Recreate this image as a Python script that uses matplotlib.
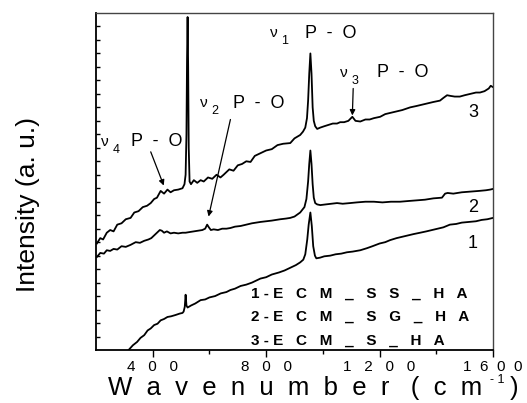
import numpy as np
import matplotlib
matplotlib.use("Agg")
import matplotlib.pyplot as plt

plt.rcParams['font.family'] = ['Liberation Sans', 'DejaVu Sans']

# spectrum 1 (ECM_SS_HA)
wn1 = [315, 330, 345, 357, 370, 382, 393, 405, 417, 428, 440, 452, 465, 481, 495, 505, 509,
       513, 516, 519, 523, 535, 550, 569, 585, 600, 620, 640, 660, 674, 690, 710, 730, 750,
       780, 800, 820, 845, 865, 885, 905, 920, 931, 938, 945, 950, 956, 961, 966, 972, 977,
       990, 1005, 1026, 1045, 1065, 1085, 1105, 1132, 1155, 1175, 1200, 1220, 1237, 1260,
       1280, 1300, 1320, 1343, 1365, 1385, 1405, 1425, 1448, 1470, 1490, 1515, 1540, 1560,
       1580, 1600]
int1 = [0.0, 0.35, 0.6, 0.9, 1.1, 1.45, 1.6, 1.85, 1.95, 2.2, 2.3, 2.45, 2.5, 2.6, 2.7, 2.75,
        2.85, 3.2, 4.1, 3.3, 3.15, 3.3, 3.45, 3.7, 3.75, 3.9, 4.0, 4.2, 4.3, 4.45, 4.55, 4.75,
        4.85, 5.0, 5.3, 5.4, 5.6, 5.75, 5.9, 6.1, 6.3, 6.5, 6.7, 7.1, 8.2, 9.3, 10.2, 9.2, 7.7,
        7.0, 6.8, 6.85, 6.95, 7.0, 7.1, 7.15, 7.25, 7.3, 7.4, 7.55, 7.7, 7.9, 8.0, 8.15, 8.3,
        8.4, 8.5, 8.6, 8.7, 8.8, 8.9, 9.0, 9.1, 9.3, 9.35, 9.45, 9.5, 9.55, 9.65, 9.7, 9.8]

# spectrum 2 (ECM_SG_HA)
wn2 = [203, 215, 228, 238, 250, 262, 275, 290, 305, 322, 340, 355, 370, 385, 395, 405, 415,
       425, 432, 440, 450, 463, 475, 490, 505, 516, 530, 545, 560, 575, 585, 592, 598, 605,
       615, 630, 645, 660, 674, 690, 710, 730, 750, 780, 800, 820, 850, 870, 885, 900, 920,
       935, 942, 948, 952, 956, 960, 964, 968, 973, 980, 991, 1010, 1030, 1050, 1070, 1096,
       1120, 1150, 1180, 1210, 1240, 1272, 1300, 1330, 1360, 1390, 1420, 1431, 1440, 1460,
       1490, 1520, 1550, 1575, 1590, 1600]
int2 = [6.9, 7.2, 7.15, 7.4, 7.35, 7.5, 7.45, 7.7, 7.65, 7.8, 8.0, 7.95, 8.1, 8.2, 8.3, 8.5,
        8.7, 8.9, 8.85, 8.7, 8.8, 8.65, 8.7, 8.65, 8.7, 8.7, 8.75, 8.8, 8.85, 8.9, 9.0, 9.3,
        9.1, 8.9, 8.95, 8.9, 9.0, 9.0, 9.05, 9.15, 9.2, 9.3, 9.4, 9.5, 9.55, 9.6, 9.7, 9.75,
        9.8, 9.9, 10.2, 10.6, 11.2, 12.5, 13.8, 14.8, 13.8, 12.3, 11.3, 10.9, 10.8, 10.75, 10.8,
        10.85, 10.9, 10.85, 10.9, 10.95, 11.0, 11.0, 10.95, 11.0, 11.0, 11.05, 11.1, 11.15,
        11.25, 11.3, 11.6, 11.65, 11.6, 11.7, 11.75, 11.8, 11.85, 11.9, 11.95]

# spectrum 3 (ECM_S_HA)
wn3 = [203, 215, 225, 238, 250, 262, 275, 290, 305, 322, 335, 350, 365, 380, 393, 405, 415,
       428, 440, 452, 463, 475, 490, 505, 512, 516, 519, 521, 523, 525, 527, 530, 535, 545,
       557, 569, 580, 595, 610, 625, 639, 650, 670, 685, 700, 715, 730, 745, 760, 780, 800,
       820, 840, 860, 885, 900, 920, 930, 938, 944, 948, 952, 956, 960, 964, 968, 973, 980,
       991, 1005, 1020, 1035, 1050, 1061, 1075, 1090, 1104, 1115, 1132, 1150, 1165, 1180,
       1202, 1220, 1240, 1260, 1280, 1308, 1330, 1350, 1370, 1390, 1413, 1425, 1438, 1450,
       1465, 1483, 1500, 1520, 1540, 1554, 1570, 1585, 1592, 1600]
int3 = [7.9, 8.3, 8.2, 8.7, 8.9, 8.8, 9.3, 9.4, 9.7, 9.8, 10.2, 10.3, 10.6, 10.7, 10.9, 11.2,
        11.3, 11.8, 11.6, 11.9, 11.7, 11.85, 11.9, 12.0, 12.3, 13.0, 16.0, 21.5, 24.7, 21.0,
        15.0, 12.5, 12.3, 12.6, 12.4, 12.6, 12.5, 12.8, 12.7, 13.0, 12.8, 13.0, 13.4, 13.3,
        13.7, 13.8, 14.0, 13.95, 14.4, 14.6, 14.8, 14.9, 15.2, 15.3, 15.35, 15.7, 15.95, 16.2,
        16.5, 17.2, 18.5, 20.5, 22.0, 20.5, 18.0, 17.0, 16.6, 16.4, 16.5, 16.6, 16.7, 16.8,
        16.8, 16.9, 16.9, 17.0, 17.3, 17.0, 16.95, 17.1, 17.1, 17.2, 17.3, 17.5, 17.6, 17.7,
        17.8, 18.0, 18.1, 18.2, 18.3, 18.4, 18.5, 18.7, 18.9, 18.85, 18.8, 18.8, 18.9, 19.0,
        19.1, 19.1, 19.2, 19.4, 19.6, 19.5]

xticks = [400, 800, 1200, 1600]
xticklabels = ["4   0   0", "8   0   0", "1   2   0   0", "1  6  0  0"]
legend_lines = ["1 - E   C   M   _   S   S   _   H   A",
                "2 - E   C   M   _   S   G   _   H   A",
                "3 - E   C   M   _   S   _   H   A"]

fig = plt.figure(figsize=(5.27, 4.03), dpi=100)
ax = fig.add_axes([96 / 527, 53 / 403, 397 / 527, 337 / 403])

for w, s in [(wn1, int1), (wn2, int2), (wn3, int3)]:
    ax.plot(w, s, color='black', lw=1.3)

ax.set_xlim(200, 1600)
ax.set_ylim(0, 25)

ax.set_xticks(xticks)
ax.set_xticklabels(xticklabels, fontsize=11)
ax.set_xticks([600, 1000, 1400], minor=True)
ax.tick_params(axis='x', which='major', direction='out', length=5, width=1, pad=2)
ax.tick_params(axis='x', which='minor', direction='out', length=3, width=1)
ax.set_yticks(np.arange(1, 25))
ax.tick_params(axis='y', direction='in', length=3, width=1, labelleft=False)
for sp in ['left', 'bottom']:
    ax.spines[sp].set_linewidth(1.3)
for sp in ['right', 'top']:
    ax.spines[sp].set_color('#444444')
    ax.spines[sp].set_linewidth(1.0)

# band annotations
def band(xn, yn, sub, xp, yp):
    ax.text(xn, yn, "ν", fontsize=11, ha='left', va='center')
    ax.text(xn + 40, yn - 0.6, sub, fontsize=9, ha='left', va='center')
    ax.text(xp, yp, "P  -  O", fontsize=13, ha='left', va='center')

band(218, 15.4, "4", 323, 15.5)
band(566, 18.3, "2", 683, 18.25)
band(812, 23.5, "1", 936, 23.5)
band(1062, 20.55, "3", 1190, 20.6)

arrow = dict(arrowstyle='-|>', color='black', lw=0.9, mutation_scale=8, shrinkA=0, shrinkB=0)
ax.annotate("", xy=(439, 12.2), xytext=(393, 14.7), arrowprops=arrow)
ax.annotate("", xy=(597, 9.9), xytext=(674, 17.1), arrowprops=arrow)
ax.annotate("", xy=(1104, 17.4), xytext=(1107, 19.4), arrowprops=arrow)

for lab, yy in [("3", 17.65), ("2", 10.6), ("1", 7.9)]:
    ax.text(1529, yy, lab, fontsize=13, ha='center', va='center')

for i, line in enumerate(legend_lines):
    ax.text(748, 4.2 - i * 1.75, line, fontsize=11, fontweight='bold', ha='left', va='center')

fig.text(28 / 527, 1 - 205 / 403, "Intensity (a. u.)", fontsize=19, rotation=90,
         ha='center', va='center')
fig.text(108 / 527, 1 - 388 / 403, "W  a  v  e  n  u  m  b  e  r   (  c  m", fontsize=18.5,
         ha='left', va='center')
fig.text(497 / 527, 1 - 380 / 403, "- 1", fontsize=9, ha='center', va='center')
fig.text(514 / 527, 1 - 388 / 403, ")", fontsize=18.5, ha='center', va='center')

fig.savefig("out.png", dpi=100)
